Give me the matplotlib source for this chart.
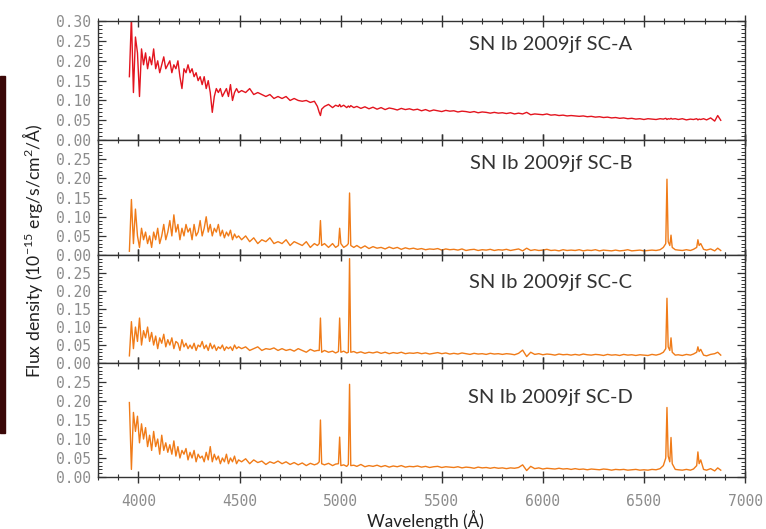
import numpy as np
import matplotlib
matplotlib.use("Agg")
import matplotlib.pyplot as plt
from matplotlib.ticker import MultipleLocator
from matplotlib.patches import Rectangle

plt.rcParams['mathtext.fontset'] = 'custom'
plt.rcParams['mathtext.rm'] = 'Lato'
plt.rcParams['mathtext.it'] = 'Lato:italic'

# wavelength sampling (Å), shared by the four spectra
wave = [
    3955, 3965, 3975, 3985, 3995, 4005, 4015, 4025, 4035, 4045,
    4055, 4065, 4075, 4085, 4095, 4105, 4115, 4125, 4135, 4145,
    4155, 4165, 4175, 4185, 4195, 4205, 4215, 4225, 4235, 4245,
    4255, 4265, 4275, 4285, 4295, 4305, 4315, 4325, 4335, 4345,
    4355, 4365, 4375, 4385, 4395, 4405, 4415, 4425, 4435, 4445,
    4455, 4465, 4475, 4485, 4495,
    4510, 4530, 4550, 4570, 4590, 4610, 4630, 4650, 4670, 4690,
    4710, 4730, 4750, 4770, 4790, 4810, 4830, 4850, 4870, 4885,
    4894, 4900, 4906, 4920, 4940, 4960, 4975, 4989, 4995, 5001,
    5015, 5030, 5038, 5044, 5050, 5065, 5080, 5100, 5120, 5140,
    5160, 5180, 5200, 5220, 5240, 5260, 5280, 5300, 5320, 5340,
    5360, 5380, 5400, 5420, 5440, 5460, 5480, 5500, 5520, 5540,
    5560, 5580, 5600, 5620, 5640, 5660, 5680, 5700, 5720, 5740,
    5760, 5780, 5800, 5820, 5840, 5860, 5880, 5900, 5920, 5940,
    5960, 5980, 6000, 6020, 6040, 6060, 6080, 6100, 6120, 6140,
    6160, 6180, 6200, 6220, 6240, 6260, 6280, 6300, 6320, 6340,
    6360, 6380, 6400, 6420, 6440, 6460, 6480, 6500, 6520, 6540,
    6560, 6580, 6596, 6608, 6614, 6620, 6628, 6634, 6640, 6655,
    6670, 6690, 6710, 6730, 6745, 6761, 6767, 6773, 6781, 6795,
    6810, 6830, 6850, 6865, 6880,
]

# flux density (1e-15 erg/s/cm2/Å)
flux_a = [
    0.16, 0.31, 0.12, 0.26, 0.22, 0.11, 0.23, 0.19, 0.22, 0.18,
    0.21, 0.19, 0.23, 0.18, 0.20, 0.17, 0.19, 0.21, 0.18, 0.19,
    0.20, 0.17, 0.19, 0.18, 0.20, 0.16, 0.13, 0.18, 0.17, 0.19,
    0.17, 0.18, 0.16, 0.17, 0.15, 0.16, 0.14, 0.16, 0.13, 0.15,
    0.12, 0.07, 0.11, 0.13, 0.12, 0.13, 0.11, 0.12, 0.13, 0.11,
    0.14, 0.10, 0.12, 0.13, 0.12,
    0.125, 0.12, 0.13, 0.115, 0.12, 0.115, 0.11, 0.115, 0.105, 0.11,
    0.105, 0.11, 0.10, 0.105, 0.10, 0.098, 0.10, 0.095, 0.098, 0.085,
    0.07, 0.062, 0.078, 0.085, 0.09, 0.082, 0.088, 0.085, 0.09, 0.084,
    0.088, 0.082, 0.086, 0.083, 0.087, 0.082, 0.085, 0.08, 0.084, 0.079,
    0.083, 0.078, 0.082, 0.077, 0.081, 0.079, 0.076, 0.08, 0.077, 0.079,
    0.076, 0.078, 0.074, 0.077, 0.073, 0.076, 0.074, 0.072, 0.075, 0.073,
    0.074, 0.071, 0.073, 0.072, 0.07, 0.072, 0.069, 0.071, 0.07, 0.068,
    0.07, 0.068, 0.069, 0.067, 0.069, 0.066, 0.068, 0.066, 0.07, 0.064,
    0.066, 0.065, 0.064, 0.066, 0.063, 0.064, 0.062, 0.063, 0.061, 0.062,
    0.061, 0.06, 0.061, 0.059, 0.06, 0.058, 0.059, 0.057, 0.058, 0.056,
    0.057, 0.055, 0.056, 0.054, 0.055, 0.053, 0.054, 0.052, 0.054, 0.053,
    0.052, 0.054, 0.053, 0.055, 0.052, 0.054, 0.053, 0.055, 0.053, 0.054,
    0.052, 0.054, 0.051, 0.053, 0.052, 0.054, 0.051, 0.053, 0.052, 0.054,
    0.051, 0.056, 0.048, 0.062, 0.05,
]

flux_b = [
    0.01, 0.145, 0.03, 0.12, 0.05, 0.02, 0.07, 0.04, 0.06, 0.03,
    0.05, 0.02, 0.06, 0.04, 0.07, 0.03, 0.05, 0.08, 0.04, 0.06,
    0.09, 0.05, 0.105, 0.06, 0.08, 0.04, 0.07, 0.05, 0.08, 0.06,
    0.07, 0.04, 0.08, 0.05, 0.06, 0.09, 0.05, 0.07, 0.10, 0.06,
    0.08, 0.05, 0.07, 0.06, 0.08, 0.05, 0.065, 0.045, 0.06, 0.05,
    0.065, 0.04, 0.055, 0.045, 0.05,
    0.04, 0.05, 0.035, 0.045, 0.03, 0.04, 0.035, 0.045, 0.03, 0.035,
    0.03, 0.04, 0.025, 0.035, 0.03, 0.025, 0.035, 0.02, 0.03, 0.025,
    0.03, 0.09, 0.025, 0.03, 0.02, 0.03, 0.02, 0.025, 0.07, 0.03,
    0.02, 0.025, 0.03, 0.162, 0.025, 0.02, 0.025, 0.018, 0.024, 0.017,
    0.022, 0.018, 0.02, 0.016, 0.021, 0.017, 0.02, 0.015, 0.019, 0.016,
    0.018, 0.015, 0.017, 0.014, 0.016, 0.015, 0.017, 0.013, 0.016, 0.014,
    0.015, 0.013, 0.016, 0.012, 0.014, 0.015, 0.012, 0.014, 0.013, 0.015,
    0.012, 0.014, 0.013, 0.015, 0.012, 0.014, 0.016, 0.011, 0.018, 0.012,
    0.014, 0.012, 0.013, 0.015, 0.012, 0.013, 0.011, 0.014, 0.012, 0.013,
    0.012, 0.014, 0.011, 0.013, 0.012, 0.014, 0.011, 0.013, 0.012, 0.011,
    0.013, 0.011, 0.012, 0.014, 0.011, 0.012, 0.013, 0.011, 0.012, 0.013,
    0.012, 0.014, 0.02, 0.03, 0.198, 0.035, 0.025, 0.052, 0.02, 0.014,
    0.013, 0.012, 0.014, 0.012, 0.015, 0.02, 0.04, 0.025, 0.03, 0.015,
    0.013, 0.016, 0.011, 0.018, 0.012,
]

flux_c = [
    0.02, 0.115, 0.04, 0.10, 0.06, 0.125, 0.05, 0.09, 0.07, 0.10,
    0.06, 0.085, 0.05, 0.075, 0.04, 0.07, 0.055, 0.08, 0.045, 0.065,
    0.05, 0.07, 0.04, 0.06, 0.055, 0.035, 0.065, 0.045, 0.055, 0.04,
    0.05, 0.04, 0.055, 0.035, 0.05, 0.045, 0.06, 0.04, 0.05, 0.035,
    0.055, 0.04, 0.05, 0.035, 0.045, 0.04, 0.05, 0.035, 0.045, 0.04,
    0.045, 0.035, 0.05, 0.04, 0.045,
    0.04, 0.045, 0.035, 0.04, 0.045, 0.035, 0.04, 0.038, 0.042, 0.035,
    0.04, 0.035, 0.038, 0.033, 0.04, 0.035, 0.03, 0.038, 0.033, 0.035,
    0.035, 0.125, 0.03, 0.035, 0.03, 0.033, 0.028, 0.032, 0.125, 0.03,
    0.033, 0.028, 0.03, 0.29, 0.03, 0.032, 0.028, 0.031, 0.027, 0.03,
    0.028, 0.031, 0.027, 0.03, 0.026, 0.029, 0.027, 0.03, 0.026, 0.028,
    0.027, 0.029, 0.026, 0.028, 0.025, 0.027, 0.029, 0.026, 0.028, 0.025,
    0.027, 0.025, 0.028, 0.026, 0.024, 0.027, 0.025, 0.026, 0.024, 0.027,
    0.025, 0.026, 0.024, 0.026, 0.025, 0.023, 0.027, 0.036, 0.018, 0.03,
    0.024, 0.026, 0.023, 0.025, 0.024, 0.022, 0.025, 0.023, 0.024, 0.022,
    0.024, 0.022, 0.025, 0.023, 0.022, 0.024, 0.023, 0.021, 0.024, 0.022,
    0.023, 0.021, 0.024, 0.022, 0.023, 0.021, 0.023, 0.022, 0.021, 0.024,
    0.022, 0.025, 0.03, 0.04, 0.18, 0.045, 0.035, 0.07, 0.03, 0.022,
    0.023, 0.021, 0.024, 0.022, 0.025, 0.03, 0.045, 0.032, 0.038, 0.022,
    0.02, 0.024, 0.026, 0.03, 0.022,
]

flux_d = [
    0.196, 0.02, 0.17, 0.12, 0.16, 0.09, 0.14, 0.10, 0.13, 0.08,
    0.11, 0.07, 0.12, 0.08, 0.10, 0.06, 0.11, 0.07, 0.09, 0.065,
    0.085, 0.06, 0.095, 0.055, 0.08, 0.05, 0.07, 0.06, 0.075, 0.045,
    0.065, 0.05, 0.07, 0.04, 0.06, 0.05, 0.055, 0.04, 0.065, 0.045,
    0.08, 0.04, 0.06, 0.045, 0.055, 0.035, 0.05, 0.04, 0.06, 0.035,
    0.05, 0.04, 0.055, 0.035, 0.045,
    0.04, 0.048, 0.035, 0.045, 0.038, 0.042, 0.033, 0.04, 0.036, 0.042,
    0.035, 0.04, 0.033, 0.038, 0.032, 0.037, 0.03, 0.036, 0.032, 0.035,
    0.04, 0.15, 0.035, 0.032, 0.036, 0.03, 0.034, 0.035, 0.105, 0.03,
    0.032, 0.028, 0.033, 0.244, 0.03, 0.031, 0.028, 0.033, 0.027, 0.03,
    0.028, 0.031, 0.027, 0.03, 0.026, 0.029, 0.027, 0.03, 0.026, 0.028,
    0.027, 0.029, 0.026, 0.028, 0.025, 0.027, 0.028, 0.025, 0.027, 0.026,
    0.025, 0.027, 0.024, 0.026, 0.025, 0.023, 0.026, 0.024, 0.025, 0.023,
    0.025, 0.023, 0.024, 0.022, 0.024, 0.023, 0.025, 0.032, 0.017, 0.028,
    0.022, 0.024, 0.021, 0.023, 0.022, 0.021, 0.023, 0.021, 0.022, 0.02,
    0.022, 0.02, 0.021, 0.019, 0.021, 0.02, 0.019, 0.021, 0.02, 0.018,
    0.02, 0.019, 0.02, 0.018, 0.019, 0.02, 0.018, 0.019, 0.018, 0.02,
    0.019, 0.022, 0.03, 0.05, 0.183, 0.055, 0.04, 0.104, 0.035, 0.02,
    0.019, 0.018, 0.02, 0.018, 0.021, 0.03, 0.066, 0.035, 0.045, 0.02,
    0.018, 0.022, 0.016, 0.024, 0.018,
]

labels = ['SN Ib 2009jf SC-A', 'SN Ib 2009jf SC-B',
          'SN Ib 2009jf SC-C', 'SN Ib 2009jf SC-D']
colors = ['#e3141e', '#f07b18', '#f07b18', '#f07b18']
series = [flux_a, flux_b, flux_c, flux_d]
label_y = [0.80, 0.80, 0.75, 0.70]

fig, axes = plt.subplots(4, 1, figsize=(7.66, 5.29), dpi=100, sharex=True,
                         gridspec_kw={'height_ratios': [119, 115, 108, 114]})
fig.subplots_adjust(left=0.128, right=0.9726, top=0.960, bottom=0.0983, hspace=0)

tick_color = '#8c8c8c'
for i, ax in enumerate(axes):
    ax.plot(wave, series[i], color=colors[i], lw=1.0)
    ax.set_xlim(3800, 7000)
    ax.set_ylim(0, 0.30)
    ax.xaxis.set_major_locator(MultipleLocator(500))
    ax.xaxis.set_minor_locator(MultipleLocator(100))
    ax.yaxis.set_minor_locator(MultipleLocator(0.01))
    if i == 0:
        ax.set_yticks([0, 0.05, 0.10, 0.15, 0.20, 0.25, 0.30])
    else:
        ax.set_yticks([0, 0.05, 0.10, 0.15, 0.20, 0.25])
    ax.yaxis.set_major_formatter(plt.FormatStrFormatter('%.2f'))
    ax.tick_params(axis='x', which='both', direction='inout', top=True,
                   bottom=True, color='#333333')
    ax.tick_params(axis='x', which='major', length=8, width=1)
    ax.tick_params(axis='x', which='minor', length=5, width=0.8)
    ax.tick_params(axis='y', which='both', direction='in', left=True,
                   right=True, color='#333333')
    ax.tick_params(axis='y', which='major', length=6, width=0.9)
    ax.tick_params(axis='y', which='minor', length=3, width=0.7)
    ax.tick_params(labelcolor=tick_color, labelsize=10.5, pad=5)
    for lab in ax.get_yticklabels() + ax.get_xticklabels():
        lab.set_family('DejaVu Sans Mono')
    for sp in ax.spines.values():
        sp.set_color('#333333')
        sp.set_linewidth(1.0)
    ax.text(0.70, label_y[i], labels[i], transform=ax.transAxes, ha='center',
            va='center', fontsize=14.5, family='Lato', color='#333333')

axes[-1].tick_params(axis='x', pad=8)

fig.text(0.043, 0.527, 'Flux density (10$^{-15}$ erg/s/cm$^2$/Å)',
         rotation=90, ha='center', va='center', fontsize=12.7,
         family='Lato', color='#222222')
fig.text(0.556, 0.017, 'Wavelength (Å)', ha='center', va='center',
         fontsize=12.3, family='Lato', color='#222222')

# dark strip on the left edge of the slide
fig.patches.append(Rectangle((0, 0.181), 0.0065, 0.675, transform=fig.transFigure,
                             color='#3a0808', zorder=0))

fig.savefig('out.png', dpi=100)
